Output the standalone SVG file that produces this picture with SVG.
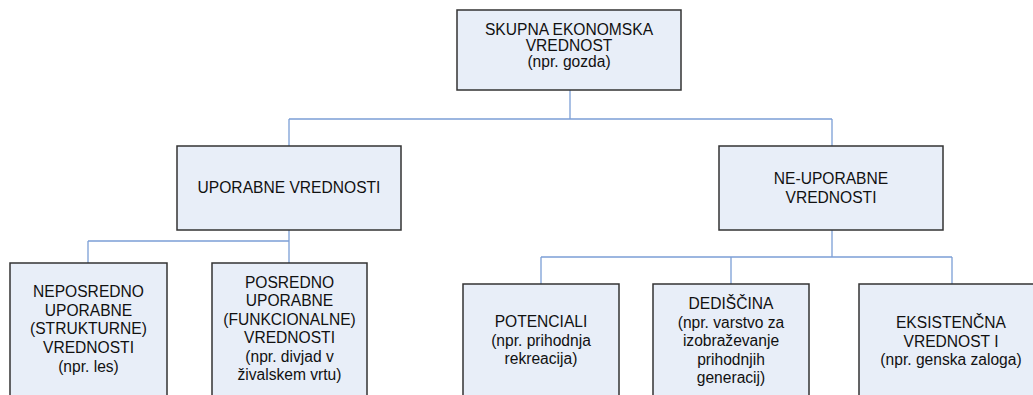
<svg xmlns="http://www.w3.org/2000/svg" width="1033" height="395" viewBox="0 0 1033 395">
  <style>
    .box { fill: #e8eef8; stroke: #333333; stroke-width: 1.5; }
    .lbl { font-family: "Liberation Sans", Arial, sans-serif; font-size: 15.6px; fill: #111; text-anchor: middle; }
    .link { fill: none; stroke: #7c9fd6; stroke-width: 1.3; }
  </style>
  <rect width="1033" height="395" fill="#ffffff"/>

  <!-- tree connectors -->
  <g id="connectors">
    <path class="link" d="M570,90 V119 M289,119 H832 M289,119 V146 M832,119 V146"/>
    <path class="link" d="M289,230 V241 M88,241 H289 M88,241 V263 M289,241 V263"/>
    <path class="link" d="M832,230 V257 M541,257 H952 M541,257 V284 M731,257 V284 M952,257 V284"/>
  </g>

  <g id="total">
    <rect class="box" x="457" y="10" width="224" height="80"/>
    <text class="lbl" x="569" y="35">SKUPNA EKONOMSKA</text>
    <text class="lbl" x="569" y="51">VREDNOST</text>
    <text class="lbl" x="569" y="67">(npr. gozda)</text>
  </g>

  <g id="use">
    <rect class="box" x="177" y="146" width="224" height="84"/>
    <text class="lbl" x="289" y="193">UPORABNE VREDNOSTI</text>
  </g>

  <g id="nonuse">
    <rect class="box" x="719" y="146" width="224" height="84"/>
    <text class="lbl" x="831" y="184">NE-UPORABNE</text>
    <text class="lbl" x="831" y="202.5">VREDNOSTI</text>
  </g>

  <g id="direct">
    <rect class="box" x="10" y="263" width="157" height="140"/>
    <text class="lbl" x="88.5" y="296.7">NEPOSREDNO</text>
    <text class="lbl" x="88.5" y="315.5">UPORABNE</text>
    <text class="lbl" x="88.5" y="334.3">(STRUKTURNE)</text>
    <text class="lbl" x="88.5" y="353">VREDNOSTI</text>
    <text class="lbl" x="88.5" y="371.8">(npr. les)</text>
  </g>

  <g id="indirect">
    <rect class="box" x="212" y="263" width="155" height="140"/>
    <text class="lbl" x="289.5" y="287.7">POSREDNO</text>
    <text class="lbl" x="289.5" y="306.2">UPORABNE</text>
    <text class="lbl" x="289.5" y="324.7">(FUNKCIONALNE)</text>
    <text class="lbl" x="289.5" y="343.2">VREDNOSTI</text>
    <text class="lbl" x="289.5" y="361.7">(npr. divjad v</text>
    <text class="lbl" x="289.5" y="380.2">živalskem vrtu)</text>
  </g>

  <g id="option">
    <rect class="box" x="463" y="284" width="156" height="120"/>
    <text class="lbl" x="541" y="327.3">POTENCIALI</text>
    <text class="lbl" x="541" y="345.8">(npr. prihodnja</text>
    <text class="lbl" x="541" y="364.3">rekreacija)</text>
  </g>

  <g id="bequest">
    <rect class="box" x="653" y="284" width="156" height="120"/>
    <text class="lbl" x="731" y="309.3">DEDIŠČINA</text>
    <text class="lbl" x="731" y="327.8">(npr. varstvo za</text>
    <text class="lbl" x="731" y="346.3">izobraževanje</text>
    <text class="lbl" x="731" y="364.8">prihodnjih</text>
    <text class="lbl" x="731" y="383.3">generacij)</text>
  </g>

  <g id="existence">
    <rect class="box" x="859" y="284" width="186" height="120"/>
    <text class="lbl" x="951" y="328.3">EKSISTENČNA</text>
    <text class="lbl" x="951" y="346.8">VREDNOST I</text>
    <text class="lbl" x="951" y="365.3">(npr. genska zaloga)</text>
  </g>
</svg>
